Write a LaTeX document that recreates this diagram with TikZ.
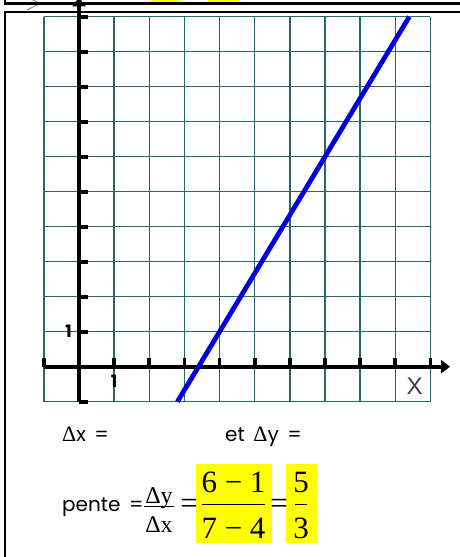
\documentclass[tikz,border=0pt]{standalone}
\usepackage{fontspec}
\setmainfont{Liberation Serif}
\newfontfamily\hand[WordSpace=1.6]{Poppins}
\newfontfamily\lsans{Liberation Sans}
\usetikzlibrary{arrows.meta}
\definecolor{gridteal}{RGB}{42,104,104}
\definecolor{lineblue}{RGB}{0,0,220}
\definecolor{hiyellow}{RGB}{255,255,0}
\newcommand{\dlt}{{\rmfamily\fontsize{22}{22}\selectfont Δ}}
\begin{document}
\begin{tikzpicture}[x=1pt,y=-1pt,
  frameline/.style={line width=2.2pt, black},
  gridline/.style={gridteal, line width=1.5pt},
  axisline/.style={line width=4pt, black, -{Triangle[length=9pt,width=13pt]}},
  tickmark/.style={line width=3.6pt, black},
  numlabel/.style={font=\hand\bfseries\fontsize{17}{17}\selectfont, inner sep=0pt},
  handtext/.style={font=\hand\fontsize{20}{20}\selectfont, inner sep=0pt, anchor=base west},
  fracsmall/.style={font=\fontsize{24}{24}\selectfont, inner sep=0pt, anchor=base},
  fracbig/.style={font=\fontsize{31}{31}\selectfont, inner sep=0pt, anchor=base},
  fracbar/.style={line width=0.9pt, black},
  hibox/.style={fill=hiyellow}
]
\useasboundingbox (0,0) rectangle (459,557);
\fill[white] (0,0) rectangle (459,557);
% top strip
\fill[hibox] (151,0) rectangle (181,2.5);
\fill[hibox] (208,0) rectangle (239,2.5);
\draw[gray, line width=0.8pt] (31.5,-0.5) -- (43,4.5);
\draw[gray, line width=0.8pt] (27,10) -- (38,4.5);
\draw[frameline] (5.3,-1) -- (5.3,3.5) -- (470,3.5);
% main frame
\draw[frameline] (470,12.3) -- (5.3,12.3) -- (5.3,570);
% graph
\begin{scope}[shift={(79,366.7)}, x=35.14pt, y=35pt]
  \foreach \i in {-1,0,...,10} {
    \draw[gridline] (\i,-1) -- (\i,10);
    \draw[gridline] (-1,\i) -- (10,\i);
  }
  \coordinate (xs) at (-1,0);
  \coordinate (xe) at (10.56,0);
  \coordinate (ys) at (0,-1);
  \coordinate (ye) at (0,10.55);
  \draw[axisline] (xs) -- (xe);
  \draw[axisline] (ys) -- (ye);
  \foreach \i in {-1,1,2,...,10} \draw[tickmark] (\i,0) -- (\i,0.25);
  \foreach \j in {-1,1,2,...,10} \draw[tickmark] (0,\j) -- (0.26,\j);
  \node[numlabel] (ylab) at (-0.3,1) {1};
  \node[numlabel] (xlab) at (1,-0.42) {1};
  \node[font=\lsans\fontsize{24}{24}\selectfont, text=black!75, inner sep=0pt] (xname) at (9.55,-0.55) {X};
  \coordinate (p1) at (2.8,-1);
  \coordinate (p2) at (9.4,10);
  \draw[lineblue, line width=4.8pt] (p1) -- (p2);
\end{scope}
% texts
\node[handtext] (dx) at (62,441) {\dlt x =};
\node[handtext] (dy) at (225,441) {et \dlt y =};
\node[handtext] (pente) at (62,511.7) {pente =};
\node[fracsmall] (dyn) at (159,503) {Δy};
\node[fracsmall] (dxd) at (159,532) {Δx};
\draw[fracbar] (144,506) -- (174,506);
\node[fracbig] (eq1) at (189,513) {=};
\fill[hibox] (196,464) rectangle (272,543);
\fill[hibox] (286,464) rectangle (317,543);
\node[fracbig] (n1) at (233.5,492) {6 − 1};
\node[fracbig] (d1) at (233.5,538) {7 − 4};
\draw[fracbar] (202,504.5) -- (265,504.5);
\node[fracbig] (eq2) at (279,513) {=};
\node[fracbig] (n2) at (301,492) {5};
\node[fracbig] (d2) at (301,538) {3};
\draw[fracbar] (295,504.5) -- (307,504.5);
\end{tikzpicture}
\end{document}
